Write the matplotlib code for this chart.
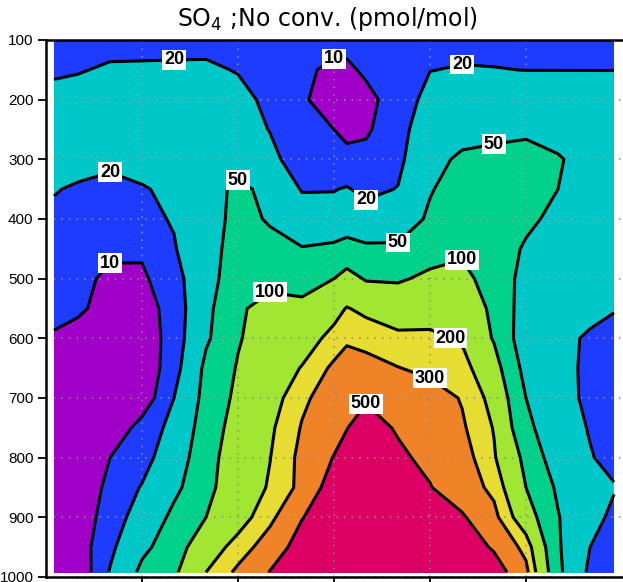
import numpy as np
import matplotlib
matplotlib.use('Agg')
import matplotlib.pyplot as plt

plt.rcParams['font.family'] = ['Liberation Sans', 'DejaVu Sans']
plt.rcParams['mathtext.fontset'] = 'dejavusans'

# latitude columns and pressure rows (hPa)
lats = [-87.5, -80, -70, -60, -50, -40, -30, -20, -10, 0, 4, 10, 20, 30, 40, 50, 60, 70, 80, 87.5]
pres = [100, 150, 200, 250, 300, 350, 400, 450, 500, 550, 600, 650, 700, 750, 800, 850, 900, 950, 992]

# SO4 mixing ratio (pmol/mol), one row per pressure level
so4 = [
    [14, 15, 15.5, 16, 16.5, 17.5, 17, 15, 13, 12, 12, 12, 14, 16, 16, 16, 15, 15, 15, 15],
    [18, 19, 22, 22, 22, 21.5, 19.5, 15, 11, 9, 9, 11, 15, 19.7, 21, 20.5, 19.8, 19.8, 19.8, 19.8],
    [25, 27, 29, 30, 30, 28, 23, 18, 11, 7, 7.5, 8.5, 13, 26, 30, 32, 33, 32, 31, 30],
    [30, 32, 34, 35, 35, 33, 28, 19.5, 12, 10, 8.5, 9, 16, 30, 36, 42, 44, 42, 38, 35],
    [30, 28, 25, 26, 30, 35, 33, 24, 14, 12, 12, 12.5, 17, 38, 58, 60, 65, 52, 42, 35],
    [21, 18, 15, 19, 23, 35, 60, 40, 19, 19.5, 21, 17, 20.5, 48, 65, 75, 72, 50, 45, 36],
    [17, 16, 15, 17, 21, 30, 70, 45, 30, 26, 33, 27, 35, 55, 80, 85, 60, 40, 33, 30],
    [14, 13, 11, 11, 19, 36, 70, 68, 52, 60, 65, 58, 55, 75, 90, 80, 45, 35, 30, 28],
    [12.5, 11.5, 9, 9, 15, 38, 75, 80, 75, 100, 125, 95, 92, 115, 120, 75, 40, 32, 28, 27],
    [11.5, 11, 8, 7.5, 13, 42, 90, 130, 120, 170, 205, 180, 165, 160, 140, 90, 35, 30, 25, 21],
    [9.5, 8, 6.5, 6.5, 13.5, 45, 95, 140, 160, 230, 280, 255, 215, 220, 190, 95, 33, 25, 18, 15],
    [7, 6.5, 6, 6, 15, 60, 105, 150, 205, 330, 370, 360, 305, 265, 240, 130, 40, 26, 17, 15],
    [5.5, 5.5, 5.5, 6.5, 20, 65, 115, 160, 275, 380, 430, 480, 450, 380, 290, 170, 50, 27, 17, 14],
    [5, 5, 6, 13, 25, 75, 125, 185, 310, 420, 495, 590, 480, 400, 320, 195, 60, 30, 19, 15],
    [4.5, 5, 10, 15, 33, 80, 140, 198, 340, 510, 570, 650, 540, 450, 370, 210, 85, 33, 21, 16],
    [4.5, 6, 12, 21, 42, 85, 145, 210, 340, 650, 700, 740, 640, 510, 380, 270, 100, 45, 28, 21],
    [5, 6.5, 14, 28, 60, 100, 160, 270, 490, 700, 760, 800, 760, 680, 530, 340, 140, 52, 26, 17],
    [5.5, 7, 17, 42, 75, 150, 240, 380, 620, 780, 820, 850, 820, 780, 680, 470, 260, 55, 20, 15],
    [6, 6, 21, 60, 90, 200, 330, 510, 700, 800, 830, 860, 850, 820, 760, 650, 340, 60, 17, 14],
]

levels = [10, 20, 50, 100, 200, 300, 500]
colors = ['#a000c8', '#1e3cff', '#00c8c8', '#00d28c', '#a0e632', '#e6dc32', '#f08228', '#dc0064']

# label spots (lat, hPa) for each contour level
label_pos = {
    10: [(1, 133), (-65.5, 462)],
    20: [(-47, 131), (40, 145), (-66, 316), (12, 380)],
    50: [(54, 268), (-33, 325), (18, 448)],
    100: [(-15.6, 532), (40, 478)],
    200: [(37.5, 598)],
    300: [(29, 668)],
    500: [(12, 708)],
}

logv = np.log10(np.array(so4, dtype=float))
loglev = np.log10(levels)

fig = plt.figure(figsize=(6.23, 5.82), dpi=100)
ax = fig.add_axes([46 / 623, 1 - 577 / 582, 576 / 623, 537 / 582])
ax.set_xlim(-90, 90)
ax.set_ylim(1000, 100)

fill_lev = np.concatenate([[-5], loglev, [5]])
ax.contourf(lats, pres, logv, levels=fill_lev, colors=colors)
cs = ax.contour(lats, pres, logv, levels=loglev, colors='k', linewidths=2.2)
ax.set_xlim(-90, 90)
ax.set_ylim(1000, 100)

# put each label on the nearest point of its own contour line
for i, lev in enumerate(levels):
    segs = [s for s in cs.allsegs[i] if len(s)]
    if not segs:
        continue
    pts = np.vstack(segs)
    pix = ax.transData.transform(pts)
    for x, y in label_pos[lev]:
        tx, ty = ax.transData.transform((x, y))
        k = np.argmin((pix[:, 0] - tx) ** 2 + (pix[:, 1] - ty) ** 2)
        ax.text(pts[k, 0], pts[k, 1], str(lev), ha='center', va='center',
                fontsize=13, fontweight='bold', color='black', zorder=5,
                bbox=dict(boxstyle='square,pad=0.08', fc='white', ec='none'))

ax.set_yticks([100, 200, 300, 400, 500, 600, 700, 800, 900, 1000])
ax.set_xticks([-60, -30, 0, 30, 60])
ax.set_xticklabels([])
ax.grid(True, color='#8c8c8c', linestyle=(0, (1, 4)), linewidth=1.1)
ax.tick_params(axis='y', direction='out', length=6, width=1.3, labelsize=11, pad=3)
ax.tick_params(axis='x', direction='out', length=6, width=1.3)
for s in ['left', 'top', 'bottom']:
    ax.spines[s].set_linewidth(1.8)
ax.spines['right'].set_visible(False)

fig.text(327 / 623, 1 - 19 / 582, r'SO$_4$ ;No conv. (pmol/mol)', ha='center', va='center',
         fontsize=17, family='DejaVu Sans')

fig.savefig('out.png', dpi=100)
